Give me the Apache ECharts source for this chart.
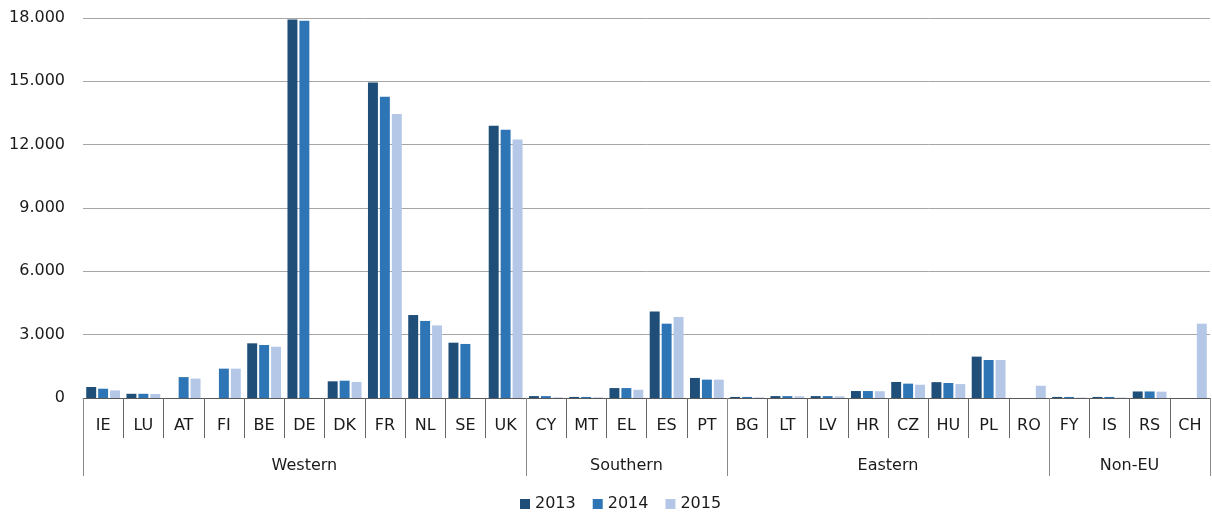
<!DOCTYPE html>
<html>
<head>
<meta charset="utf-8">
<script src="https://cdn.jsdelivr.net/npm/echarts@6/dist/echarts.min.js"></script>
<style>
  html, body { margin: 0; padding: 0; background: #ffffff; }
  #chart { width: 1212px; height: 513px; }
</style>
</head>
<body>
<div id="chart"></div>
<script>
// Country codes, in region order
const countries = ['IE','LU','AT','FI','BE','DE','DK','FR','NL','SE','UK',
                   'CY','MT','EL','ES','PT',
                   'BG','LT','LV','HR','CZ','HU','PL','RO',
                   'FY','IS','RS','CH'];

// Regions and how many countries each one spans
const regionNames = ['Western', 'Southern', 'Eastern', 'Non-EU'];
const regionSizes = [11, 5, 8, 4];

const years = ['2013', '2014', '2015'];

const values2013 = [520, 200, null, null, 2590, 17930, 790, 14940, 3930, 2620, 12900,
                    90, 50, 470, 4100, 950,
                    50, 90, 90, 330, 760, 750, 1960, null,
                    50, 50, 310, null];
const values2014 = [440, 200, 990, 1390, 2510, 17870, 820, 14270, 3650, 2560, 12710,
                    90, 50, 470, 3520, 870,
                    50, 90, 90, 330, 680, 710, 1800, null,
                    50, 50, 310, null];
const values2015 = [360, 190, 920, 1390, 2430, null, 760, 13450, 3440, null, 12240,
                    30, 30, 390, 3840, 870,
                    30, 80, 80, 320, 630, 660, 1800, 580,
                    20, 20, 300, 3520];

const yTicks = [0, 3000, 6000, 9000, 12000, 15000, 18000];

// Region boundaries and label centres on a 0..n band scale
const regionBounds = [0];
regionSizes.forEach(s => regionBounds.push(regionBounds[regionBounds.length - 1] + s));
const regionCenters = regionSizes.map((s, i) => regionBounds[i] + s / 2);

const FONT = 'DejaVu Sans';
const TEXT = '#1a1a1a';
const colors = ['#1F4E79', '#2E75B6', '#B4C7E7'];

function thousands(v) {
  return String(v).replace(/\B(?=(\d{3})+(?!\d))/g, '.');
}

const chart = echarts.init(document.getElementById('chart'), null, { renderer: 'canvas' });

const seriesData = [values2013, values2014, values2015];

chart.setOption({
  animation: false,
  color: colors,
  textStyle: { fontFamily: FONT },
  grid: { left: 83, right: 2, top: 18, bottom: 115, containLabel: false },
  legend: {
    data: years,
    left: 515,
    top: 491,
    icon: 'rect',
    itemWidth: 10,
    itemHeight: 10,
    itemGap: 17,
    textStyle: { fontFamily: FONT, fontSize: 16, color: TEXT }
  },
  xAxis: [
    {
      type: 'category',
      data: countries,
      position: 'bottom',
      axisLine: { show: true, lineStyle: { color: '#595959', width: 1 } },
      axisTick: { show: true, interval: 0, alignWithLabel: false, length: 40,
                  lineStyle: { color: '#666666', width: 1 } },
      axisLabel: { interval: 0, margin: 20, fontFamily: FONT, fontSize: 16, color: TEXT },
      splitLine: { show: false }
    },
    {
      type: 'value',
      min: 0,
      max: regionBounds[regionBounds.length - 1],
      position: 'bottom',
      axisLine: { show: false },
      splitLine: { show: false },
      axisTick: { show: true, length: 78, customValues: regionBounds,
                  lineStyle: { color: '#8a8a8a', width: 1 } },
      axisLabel: {
        show: true,
        customValues: regionCenters,
        margin: 60,
        fontFamily: FONT, fontSize: 16, color: TEXT,
        formatter: function (v) {
          const i = regionCenters.indexOf(v);
          return i >= 0 ? regionNames[i] : '';
        }
      }
    }
  ],
  yAxis: {
    type: 'value',
    min: yTicks[0],
    max: yTicks[yTicks.length - 1],
    interval: yTicks[1] - yTicks[0],
    axisLine: { show: false },
    axisTick: { show: false },
    axisLabel: { margin: 18, fontFamily: FONT, fontSize: 16, color: TEXT,
                 formatter: thousands },
    splitLine: { show: true, lineStyle: { color: '#a6a6a6', width: 1 } }
  },
  series: years.map((y, i) => ({
    name: y,
    type: 'bar',
    xAxisIndex: 0,
    data: seriesData[i],
    barGap: '20%',
    barCategoryGap: '16%',
    itemStyle: { color: colors[i] }
  }))
});
</script>
</body>
</html>
